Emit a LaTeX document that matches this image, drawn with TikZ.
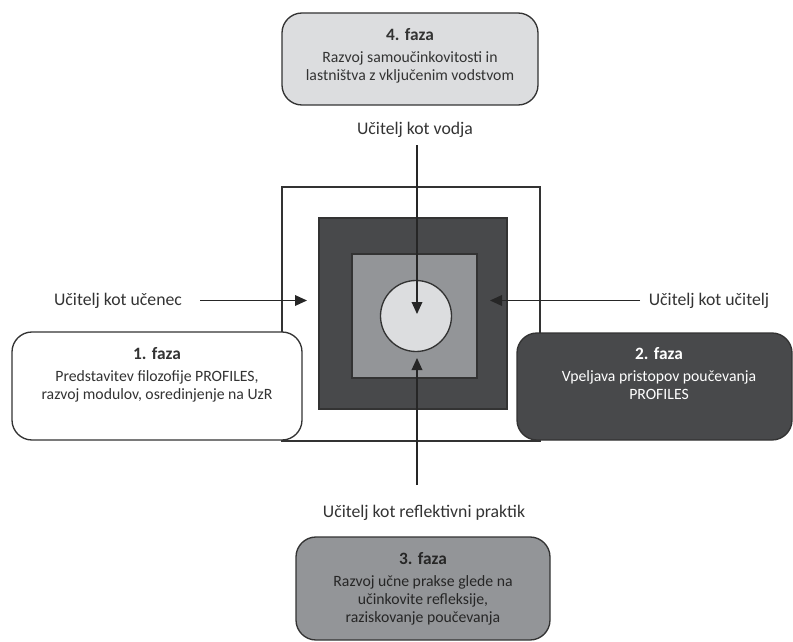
\documentclass[tikz,border=0pt]{standalone}
\usepackage{fontspec}
\setmainfont{Carlito}
\usetikzlibrary{arrows.meta}
\definecolor{inkgray}{HTML}{333333}
\definecolor{darkfill}{HTML}{48494B}
\definecolor{midfill}{HTML}{939598}
\definecolor{lightfill}{HTML}{DCDDDF}
\newcommand{\phasetitle}[1]{{\fontsize{13}{13.5}\selectfont\bfseries #1}}

\begin{document}
\begin{tikzpicture}[x=0.75pt,y=-0.75pt,
  phasebox/.style={draw=inkgray, line width=1pt, rounded corners=15pt},
  phasetext/.style={align=center, inner sep=0pt, anchor=north,
    font=\fontsize{11.8}{13.5}\selectfont, text=inkgray},
  rolelabel/.style={font=\fontsize{13.3}{16}\selectfont, text=inkgray, inner sep=0pt},
  rolearrow/.style={draw=black!85, line width=1pt, -{Triangle[length=9pt,width=8pt]}},
  square/.style={draw=inkgray, line width=0.9pt}
]
\useasboundingbox (0,0) rectangle (793,642);

% thin frame behind the phase boxes
\draw[inkgray, line width=0.9pt] (282,187) rectangle (540,441);

% nested squares and the core circle
\draw[square, fill=darkfill] (319,218) rectangle (507,409);
\draw[square, fill=midfill] (352,254) rectangle (477,378);
\draw[square, fill=lightfill, line width=1pt] (416,316) circle [radius=35.5];

% phase boxes
\draw[phasebox, fill=lightfill] (282,13) rectangle (538,105);
\draw[phasebox, fill=white] (12,332) rectangle (302,440);
\draw[phasebox, fill=darkfill] (517,333) rectangle (792,440);
\draw[phasebox, fill=midfill] (296,537) rectangle (550,640);

\node[phasetext] (p4t) at (410,28)
  {\phasetitle{4. faza}\\[3pt]Razvoj samoučinkovitosti in\\lastništva z vključenim vodstvom};
\node[phasetext] (p1t) at (157,347)
  {\phasetitle{1. faza}\\[3pt]Predstavitev filozofije PROFILES,\\razvoj modulov, osredinjenje na UzR};
\node[phasetext, text=white] (p2t) at (659,347)
  {\phasetitle{2. faza}\\[3pt]Vpeljava pristopov poučevanja\\PROFILES};
\node[phasetext, text=black!85] (p3t) at (423,552)
  {\phasetitle{3. faza}\\[3pt]Razvoj učne prakse glede na\\učinkovite refleksije,\\raziskovanje poučevanja};

% role labels
\node[rolelabel] (lvodja) at (415,130) {Učitelj kot vodja};
\node[rolelabel] (lucenec) at (118,301) {Učitelj kot učenec};
\node[rolelabel] (lucitelj) at (709,301) {Učitelj kot učitelj};
\node[rolelabel] (lrefl) at (424,513) {Učitelj kot reflektivni praktik};

% arrow end points
\coordinate (vodjaend) at (417,145);
\coordinate (vodjatip) at (417,314);
\coordinate (ucenecend) at (200,300.5);
\coordinate (ucenectip) at (307,300.5);
\coordinate (uciteljend) at (640,300.5);
\coordinate (uciteljtip) at (490,300.5);
\coordinate (reflend) at (417,485);
\coordinate (refltip) at (417,358);

\draw[rolearrow] (vodjaend) -- (vodjatip);
\draw[rolearrow] (ucenecend) -- (ucenectip);
\draw[rolearrow] (uciteljend) -- (uciteljtip);
\draw[rolearrow] (reflend) -- (refltip);
\end{tikzpicture}
\end{document}
